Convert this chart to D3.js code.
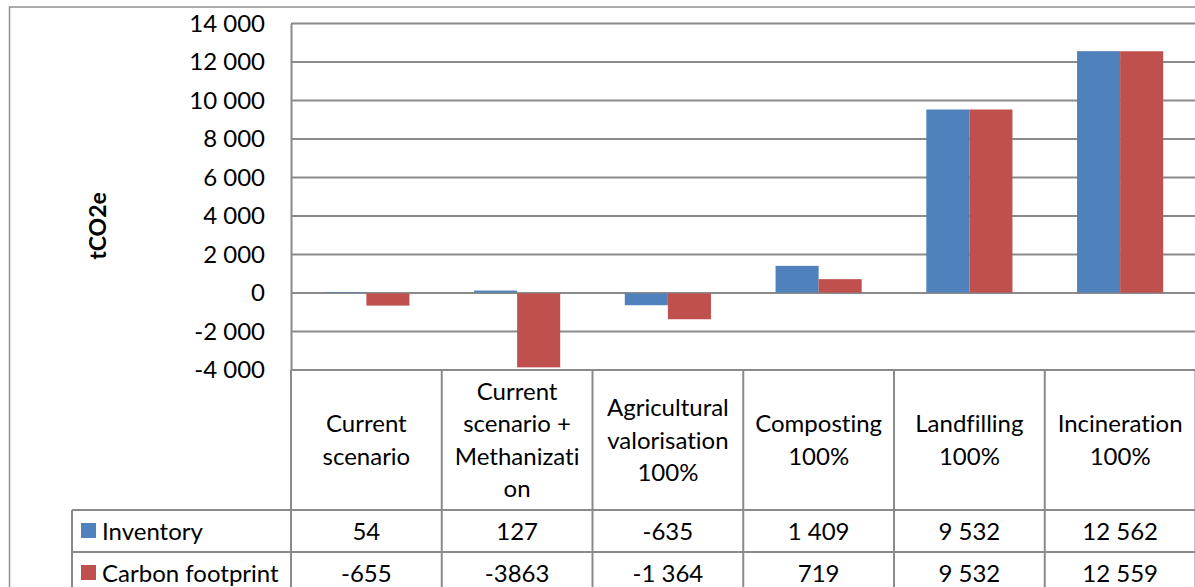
<!DOCTYPE html>
<html>
<head>
<meta charset="utf-8">
<script src="https://cdn.jsdelivr.net/npm/d3@7"></script>
<style>
  html, body { margin: 0; padding: 0; background: #fff; }
  svg { display: block; }
  text { font-family: Lato, "Open Sans", sans-serif; fill: #000; font-variant-ligatures: none; font-feature-settings: "liga" 0, "clig" 0; }
</style>
</head>
<body>
<svg id="chart" width="1195" height="587"></svg>
<script>
// ---- data ----
const categories = ["Current scenario", "Current scenario + Methanization", "Agricultural valorisation 100%", "Composting 100%", "Landfilling 100%", "Incineration 100%"];
const categoryLines = [
  ["Current", "scenario"],
  ["Current", "scenario +", "Methanizati", "on"],
  ["Agricultural", "valorisation", "100%"],
  ["Composting", "100%"],
  ["Landfilling", "100%"],
  ["Incineration", "100%"]
];
const seriesNames = ["Inventory", "Carbon footprint"];
const inventory = [54, 127, -635, 1409, 9532, 12562];
const carbonFootprint = [-655, -3863, -1364, 719, 9532, 12559];
const inventoryText = ["54", "127", "-635", "1 409", "9 532", "12 562"];
const carbonText = ["-655", "-3863", "-1 364", "719", "9 532", "12 559"];
const yTicks = [-4000, -2000, 0, 2000, 4000, 6000, 8000, 10000, 12000, 14000];
const yTickLabels = ["-4 000", "-2 000", "0", "2 000", "4 000", "6 000", "8 000", "10 000", "12 000", "14 000"];
const colors = ["#4F81BD", "#C0504D"];

const seriesValues = [inventory, carbonFootprint];
const seriesText = [inventoryText, carbonText];

// ---- layout ----
const W = 1195, H = 587;
const plotL = 291, plotR = 1195.5, plotT = 23.5, plotB = 370;
const gridColor = "#8a8a8a";
const fs = 24;

const svg = d3.select("#chart");

const x0 = d3.scaleBand().domain(categories).range([plotL, plotR]).padding(0);
const bw = x0.bandwidth();
const gap = bw * 1.5 / 3.5;
const x1 = d3.scaleBand().domain(seriesNames).range([gap / 2, bw - gap / 2]).padding(0);
const y = d3.scaleLinear().domain([-4000, 14000]).range([plotB, plotT]);

// outer chart border
svg.append("path")
  .attr("d", `M9.5,${H + 2} V7 H${W + 2}`)
  .attr("fill", "none").attr("stroke", "#8f8f8f").attr("stroke-width", 1.5);

// gridlines
svg.append("g").selectAll("line").data(yTicks).join("line")
  .attr("x1", plotL).attr("x2", W)
  .attr("y1", d => y(d)).attr("y2", d => y(d))
  .attr("stroke", gridColor).attr("stroke-width", 2);

// y axis via d3.axisLeft
const yAxis = d3.axisLeft(y).tickValues(yTicks)
  .tickFormat((d, i) => yTickLabels[i]).tickSize(0).tickPadding(26);
const gy = svg.append("g").attr("transform", `translate(${plotL},0)`).call(yAxis);
gy.select(".domain").attr("stroke", gridColor).attr("stroke-width", 2);
gy.selectAll("text").style("font-family", "Lato, 'Open Sans', sans-serif")
  .style("font-size", fs + "px").attr("fill", "#000");

// y axis title
svg.append("text")
  .attr("transform", `translate(106,226) rotate(-90)`)
  .attr("text-anchor", "middle")
  .style("font-size", "23px").style("font-weight", "bold")
  .text("tCO2e");

// bars
const gBars = svg.append("g");
seriesNames.forEach((s, si) => {
  gBars.append("g").selectAll("rect").data(categories).join("rect")
    .attr("x", c => x0(c) + x1(s))
    .attr("width", x1.bandwidth())
    .attr("y", (c, i) => y(Math.max(0, seriesValues[si][i])))
    .attr("height", (c, i) => Math.abs(y(seriesValues[si][i]) - y(0)))
    .attr("fill", colors[si]);
});
// redraw zero line on top
svg.append("line").attr("x1", plotL).attr("x2", W).attr("y1", y(0)).attr("y2", y(0))
  .attr("stroke", gridColor).attr("stroke-width", 1.5).attr("opacity", 0.6);

// ---- data table ----
const headB = 510, row1B = 552, row2B = 594;
const legL = 72;
const gT = svg.append("g");
const bounds = categories.map(c => x0(c)).concat([plotR]);
gT.selectAll("line.v").data(bounds).join("line").attr("class", "v")
  .attr("x1", d => d).attr("x2", d => d)
  .attr("y1", plotB).attr("y2", H + 2)
  .attr("stroke", gridColor).attr("stroke-width", 2);
gT.append("line").attr("x1", legL).attr("x2", legL).attr("y1", headB).attr("y2", H + 2)
  .attr("stroke", gridColor).attr("stroke-width", 2);
[headB, row1B].forEach(yy => {
  gT.append("line").attr("x1", legL).attr("x2", W).attr("y1", yy).attr("y2", yy)
    .attr("stroke", gridColor).attr("stroke-width", 2);
});

// header labels
const lh = 32.5;
categories.forEach((c, i) => {
  const lines = categoryLines[i];
  const cx = x0(c) + bw / 2;
  const cy = (plotB + headB) / 2;
  const t = gT.append("text").attr("text-anchor", "middle").style("font-size", fs + "px");
  lines.forEach((ln, j) => {
    t.append("tspan").attr("x", cx)
      .attr("y", cy + (j - (lines.length - 1) / 2) * lh)
      .attr("dy", "0.36em").text(ln);
  });
});

// rows
const rowCenters = [(headB + row1B) / 2, (row1B + row2B) / 2];
seriesNames.forEach((s, si) => {
  const cy = rowCenters[si];
  gT.append("rect").attr("x", 81).attr("y", cy - 8).attr("width", 15).attr("height", 15)
    .attr("fill", colors[si]);
  gT.append("text").attr("x", 102).attr("y", cy).attr("dy", "0.36em")
    .style("font-size", fs + "px").text(s);
  categories.forEach((c, i) => {
    gT.append("text").attr("x", x0(c) + bw / 2).attr("y", cy).attr("dy", "0.36em")
      .attr("text-anchor", "middle").style("font-size", fs + "px")
      .text(seriesText[si][i]);
  });
});
</script>
</body>
</html>
